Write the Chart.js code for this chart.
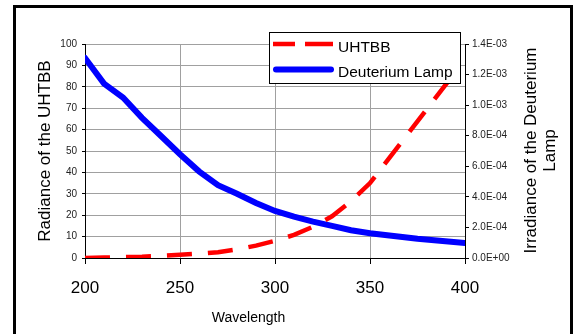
<!DOCTYPE html>
<html>
<head>
<meta charset="utf-8">
<script src="https://cdn.jsdelivr.net/npm/chart.js@4"></script>
<style>
  html, body { margin: 0; padding: 0; background: #fff; }
  #wrap { position: relative; width: 579px; height: 334px; overflow: hidden; }
  #frame { position: absolute; left: 13px; top: 5px; width: 554px; height: 400px;
           border: 3px solid #000; pointer-events: none; }
</style>
</head>
<body>
<div id="wrap">
  <canvas id="spectrumChart" width="579" height="334"></canvas>
  <div id="frame"></div>
</div>
<script>
// wavelengths (nm) and the two curves
const waveUHTBB = [200, 210, 220, 230, 240, 250, 260, 270, 280, 290, 300, 310, 320, 330, 340, 350, 395];
const radianceUHTBB = [0, 0.2, 0.4, 0.6, 1, 1.5, 2, 2.7, 4, 5.8, 8, 10.8, 14.6, 19.5, 26.5, 35, 87];

const waveLamp = [200, 210, 220, 230, 240, 250, 260, 270, 280, 290, 300, 310, 320, 330, 340, 350, 375, 400];
const irradianceLamp = [1.309e-3, 1.141e-3, 1.05e-3, 9.17e-4, 7.98e-4, 6.79e-4, 5.67e-4, 4.76e-4, 4.2e-4,
                        3.6e-4, 3.08e-4, 2.7e-4, 2.38e-4, 2.1e-4, 1.82e-4, 1.62e-4, 1.26e-4, 9.8e-5];

const xTicks = [200, 250, 300, 350, 400];
const seriesNames = ['UHTBB', 'Deuterium Lamp'];

const FONT = "'Liberation Sans', Arial, sans-serif";

function sci(v) {
    // 1.4E-03 style labels
    if (Math.abs(v) < 1e-12) return '0.0E+00';
    let e = Math.floor(Math.log10(Math.abs(v)) + 1e-9);
    let m = v / Math.pow(10, e);
    let sign = e < 0 ? '-' : '+';
    let ee = String(Math.abs(e)).padStart(2, '0');
    return m.toFixed(1) + 'E' + sign + ee;
}

// axis titles and the boxed legend
const extras = {
    id: 'extras',
    afterDraw(chart) {
        const c = chart.ctx;
        c.save();
        c.fillStyle = '#000';
        c.textAlign = 'center';
        c.textBaseline = 'middle';

        c.font = '14px ' + FONT;
        c.fillText('Wavelength', 248.5, 318);

        c.font = '17px ' + FONT;
        c.save();
        c.translate(45, 151);
        c.rotate(-Math.PI / 2);
        c.fillText('Radiance of the UHTBB', 0, 0);
        c.restore();

        c.save();
        c.translate(531, 150.5);
        c.rotate(-Math.PI / 2);
        c.fillText('Irradiance of the Deuterium', 0, 0);
        c.fillText('Lamp', 0, 19);
        c.restore();

        // legend
        c.fillStyle = '#fff';
        c.fillRect(269, 32, 192, 52);
        c.strokeStyle = '#000';
        c.lineWidth = 1;
        c.strokeRect(269.5, 32.5, 191, 51);

        const ds = chart.data.datasets;
        c.lineCap = 'butt';
        c.strokeStyle = ds[0].borderColor;
        c.lineWidth = ds[0].borderWidth;
        c.setLineDash([22, 10, 28, 10]);
        c.beginPath(); c.moveTo(273, 44); c.lineTo(333, 44); c.stroke();

        c.setLineDash([]);
        c.lineCap = 'round';
        c.strokeStyle = ds[1].borderColor;
        c.lineWidth = ds[1].borderWidth;
        c.beginPath(); c.moveTo(276, 69.5); c.lineTo(331, 69.5); c.stroke();

        c.fillStyle = '#000';
        c.textAlign = 'left';
        c.textBaseline = 'alphabetic';
        c.font = '15.5px ' + FONT;
        c.fillText(ds[0].label, 338, 51.5);
        c.fillText(ds[1].label, 338, 77);
        c.restore();
    }
};

let ctx = document.getElementById('spectrumChart').getContext('2d');
new Chart(ctx, {
    type: 'line',
    data: {
        datasets: [{
            label: seriesNames[0],
            data: waveUHTBB.map((w, i) => ({ x: w, y: radianceUHTBB[i] })),
            borderColor: '#ff0000',
            borderWidth: 4.5,
            borderDash: [25, 16],
            pointRadius: 0,
            tension: 0,
            yAxisID: 'y'
        }, {
            label: seriesNames[1],
            data: waveLamp.map((w, i) => ({ x: w, y: irradianceLamp[i] })),
            borderColor: '#0000ff',
            borderWidth: 6,
            borderCapStyle: 'round',
            pointRadius: 0,
            tension: 0,
            yAxisID: 'y2'
        }]
    },
    options: {
        responsive: false,
        animation: false,
        layout: { padding: { top: 44, left: 0, right: 0, bottom: 0 } },
        plugins: { legend: { display: false }, tooltip: { enabled: false } },
        scales: {
            x: {
                type: 'linear',
                min: 200,
                max: 400,
                afterBuildTicks: s => { s.ticks = xTicks.map(v => ({ value: v })); },
                afterFit: s => { s.height = 76; },
                grid: { color: '#a0a0a0', tickLength: 6, tickColor: '#000' },
                border: { color: '#000', width: 1 },
                ticks: { color: '#000', padding: 14, font: { family: FONT, size: 17 }, maxRotation: 0 }
            },
            y: {
                position: 'left',
                min: 0,
                max: 100,
                afterFit: s => { s.width = 85; },
                grid: { color: '#a0a0a0', tickLength: 3, tickColor: '#000' },
                border: { color: '#000', width: 1 },
                ticks: { stepSize: 10, color: '#222', padding: 5, font: { family: FONT, size: 10 } }
            },
            y2: {
                position: 'right',
                min: 0,
                max: 1.4e-3,
                afterFit: s => { s.width = 114; },
                grid: { drawOnChartArea: false, tickLength: 4, tickColor: '#000' },
                border: { color: '#000', width: 1 },
                ticks: {
                    stepSize: 2e-4, color: '#222', padding: 3,
                    font: { family: FONT, size: 10 },
                    callback: v => sci(v)
                }
            }
        }
    },
    plugins: [extras]
});
</script>
</body>
</html>
